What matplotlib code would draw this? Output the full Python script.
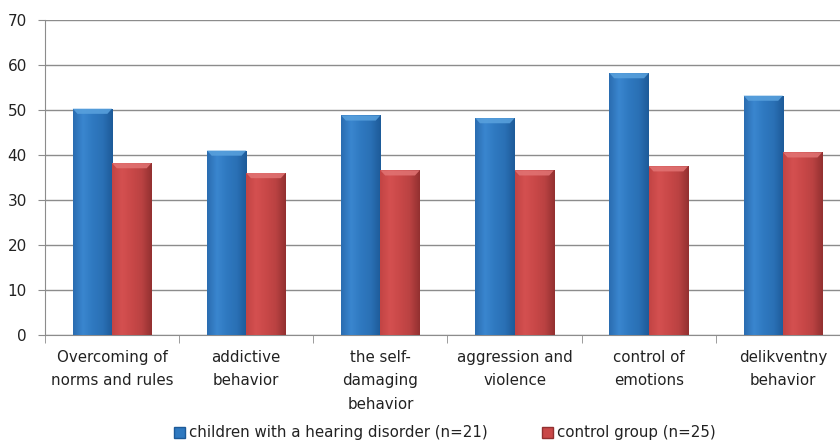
import numpy as np
import matplotlib
matplotlib.use("Agg")
import matplotlib.pyplot as plt
from matplotlib.colors import LinearSegmentedColormap
from matplotlib.patches import Polygon, Patch

categories = [
    "Overcoming of\nnorms and rules",
    "addictive\nbehavior",
    "the self-\ndamaging\nbehavior",
    "aggression and\nviolence",
    "control of\nemotions",
    "delikventny\nbehavior",
]
hearing = [50.3, 41.0, 48.8, 48.2, 58.2, 53.2]
control = [38.2, 36.0, 36.6, 36.6, 37.5, 40.6]
series_names = ["children with a hearing disorder (n=21)", "control group (n=25)"]
y_ticks = [0, 10, 20, 30, 40, 50, 60, 70]

blue_cmap = LinearSegmentedColormap.from_list(
    "blue_bar", ["#2a6cb0", "#3a86cf", "#2f79c0", "#2a70b5", "#1d5a98"])
red_cmap = LinearSegmentedColormap.from_list(
    "red_bar", ["#c24444", "#d45050", "#c94848", "#ba4242", "#923030"])
bevel_colors = {"blue": "#5aa2de", "red": "#e27474"}

fig = plt.figure(figsize=(8.4, 4.42), dpi=100)
ax = fig.add_axes([45 / 840, 1 - 335 / 442, 805 / 840, 315 / 442])

x = np.arange(len(categories))
w = 0.293
grad = np.linspace(0, 1, 256).reshape(1, -1)

def draw_bars(xs, vals, cmap, bevel):
    bars = ax.bar(xs, vals, width=w, color="none", edgecolor="none", zorder=3)
    for b, v in zip(bars, vals):
        x0 = b.get_x()
        im = ax.imshow(grad, cmap=cmap, aspect="auto",
                       extent=[x0, x0 + w, 0, v], zorder=3, interpolation="bicubic")
        im.set_clip_path(b)
        bh = 1.15
        inset = w * 0.12
        ax.add_patch(Polygon([[x0, v], [x0 + w, v], [x0 + w - inset, v - bh],
                              [x0 + inset, v - bh]], closed=True,
                             facecolor=bevel, edgecolor="none", alpha=0.85, zorder=4))
    return bars

draw_bars(x - w / 2, hearing, blue_cmap, bevel_colors["blue"])
draw_bars(x + w / 2, control, red_cmap, bevel_colors["red"])

ax.set_xlim(-0.5, len(categories) - 0.5)
ax.set_ylim(0, 70)
ax.set_yticks(y_ticks)
ax.yaxis.grid(True, color="#8c8c8c", linewidth=1.0, zorder=0)
ax.set_axisbelow(True)
for s in ["top", "right"]:
    ax.spines[s].set_visible(False)
ax.spines["left"].set_color("#8c8c8c")
ax.spines["bottom"].set_color("#8c8c8c")
ax.tick_params(axis="y", length=5, color="#8c8c8c", labelsize=11, pad=8,
               labelcolor="#222222")

ax.set_xticks(np.arange(len(categories) + 1) - 0.5, minor=True)
ax.set_xticks(x)
ax.set_xticklabels(categories, fontsize=10.8, linespacing=1.68, color="#222222")
ax.tick_params(axis="x", which="major", length=0, pad=11)
ax.tick_params(axis="x", which="minor", length=6, color="#8c8c8c")

handles = [Patch(facecolor="#2f79c0", edgecolor="#1d5a98"),
           Patch(facecolor="#c94848", edgecolor="#923030")]
fig.legend(handles, series_names, loc="center", bbox_to_anchor=(0.53, 9 / 442),
           ncol=2, frameon=False, fontsize=10.8, handlelength=0.7, handleheight=0.7,
           handletextpad=0.3, columnspacing=3.6, labelcolor="#222222")

fig.savefig("out.png", dpi=100)
